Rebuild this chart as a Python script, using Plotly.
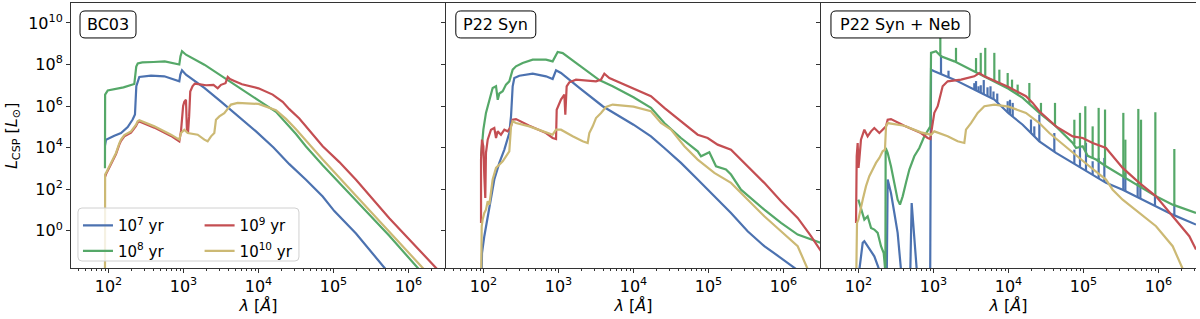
import plotly.graph_objects as go

# ---------------- data (log10 wavelength [A], log10 L [Lsun]) ----------------
AGES = ["10<sup>7</sup> yr", "10<sup>8</sup> yr", "10<sup>9</sup> yr", "10<sup>10</sup> yr"]
COLORS = ["#4C72B0", "#55A868", "#C44E52", "#CCB974"]
PANELS = ["BC03", "P22 Syn", "P22 Syn + Neb"]

# Panel 1: BC03
bc03_7_lam = [1.953, 1.967, 2.078, 2.167, 2.256, 2.322, 2.353, 2.371, 2.411, 2.567, 2.744, 2.944, 2.958, 2.98, 3.033,
              3.278, 3.5, 3.722, 3.967, 4.2, 4.411, 4.633, 4.856, 5.011, 5.3, 5.7]
bc03_7_L = [4.1, 4.38, 4.57, 4.70, 4.99, 5.35, 5.59, 6.95, 7.40, 7.46, 7.43, 7.19, 7.51, 7.72, 7.51,
            6.87, 6.21, 5.55, 4.78, 4.0, 3.2, 2.45, 1.64, 0.94, -0.14, -1.88]
bc03_8_lam = [1.953, 1.955, 1.99, 2.2, 2.344, 2.37, 2.39, 2.45, 2.6, 2.75, 2.944, 2.96, 2.98, 3.033, 3.278, 3.544,
              3.811, 4.0, 4.233, 4.367, 4.5, 4.633, 4.856, 5.3, 5.744, 6.144]
bc03_8_L = [3.0, 6.55, 6.75, 6.9, 7.06, 7.9, 8.05, 8.1, 8.12, 8.15, 8.0, 8.4, 8.64, 8.47, 7.99, 7.37,
            6.74, 6.27, 5.72, 5.2, 4.65, 4.05, 3.15, 1.45, -0.25, -1.88]
bc03_9_lam = [1.955, 1.967, 2.011, 2.056, 2.1, 2.144, 2.167, 2.211, 2.3, 2.367, 2.389, 2.411, 2.611, 2.833, 2.944,
              2.967, 2.98, 2.995, 3.011, 3.033, 3.045, 3.06, 3.075, 3.09, 3.12, 3.15, 3.2, 3.3, 3.4, 3.456,
              3.5, 3.56, 3.59, 3.62, 3.67, 3.78, 4.0, 4.189, 4.322, 4.411, 4.544, 4.722, 4.856, 5.078, 5.3,
              5.744, 6.189, 6.389]
bc03_9_L = [2.6, 2.72, 3.04, 3.36, 3.68, 4.14, 4.32, 4.54, 4.72, 5.04, 5.2, 5.25, 4.96, 4.56, 4.3,
            4.8, 5.6, 6.0, 6.2, 6.3, 4.9, 4.7, 5.5, 6.7, 6.95, 7.08, 7.05, 7.0, 7.02, 6.85,
            7.02, 7.1, 7.4, 7.3, 7.22, 7.05, 6.85, 6.55, 6.2, 5.85, 5.4, 4.65, 4.06, 3.3, 2.45,
            0.6, -1.1, -1.88]
bc03_10_lam = [1.953, 1.955, 1.967, 2.011, 2.056, 2.1, 2.144, 2.167, 2.211, 2.3, 2.367, 2.389, 2.411, 2.611, 2.833,
               2.944, 2.967, 3.011, 3.056, 3.189, 3.278, 3.322, 3.367, 3.411, 3.433, 3.478, 3.544, 3.633, 3.722,
               4.0, 4.233, 4.367, 4.5, 4.633, 4.856, 5.3, 5.744, 6.211]
bc03_10_L = [-3, 2.7, 2.78, 3.1, 3.42, 3.74, 4.2, 4.38, 4.6, 4.78, 5.1, 5.26, 5.31, 5.02, 4.62,
             4.38, 4.7, 4.86, 4.7, 4.62, 4.38, 4.3, 4.54, 4.7, 5.34, 5.5, 5.66, 6.07, 6.15,
             6.1, 5.8, 5.38, 4.88, 4.32, 3.42, 1.68, -0.05, -1.88]

# Panel 2: P22 Syn
syn_7_lam = [1.971, 1.98, 2.011, 2.078, 2.144, 2.211, 2.278, 2.344, 2.367, 2.389, 2.411, 2.478, 2.656, 2.833, 2.922,
             2.967, 3.033, 3.278, 3.589, 4.0, 4.233, 4.411, 4.633, 4.856, 5.078, 5.3, 5.522, 5.744, 5.967, 6.167]
syn_7_L = [-3, -1.08, -0.27, 1.17, 2.46, 3.26, 3.90, 4.70, 5.51, 6.95, 7.35, 7.46, 7.56, 7.43, 7.30,
           7.72, 7.59, 6.87, 5.99, 5.1, 4.54, 3.98, 3.26, 2.46, 1.65, 0.85, -0.03, -0.75, -1.32, -1.85]
syn_8_lam = [1.967, 1.98, 1.998, 2.033, 2.078, 2.122, 2.167, 2.19, 2.211, 2.256, 2.3, 2.344, 2.389, 2.433, 2.522,
             2.656, 2.833, 2.922, 2.989, 3.056, 3.278, 3.544, 3.722, 4.0, 4.233, 4.411, 4.633, 4.856, 4.9, 5.011,
             5.1, 5.233, 5.3, 5.433, 5.744, 5.967, 6.189, 6.5]
syn_8_L = [3.58, 4.22, 4.86, 5.67, 6.31, 6.87, 6.95, 6.3, 6.6, 6.71, 7.03, 7.19, 7.75, 7.91, 8.07,
           8.23, 8.23, 8.15, 8.6, 8.55, 7.96, 7.25, 6.95, 6.42, 5.91, 5.18, 4.46, 3.82, 3.58, 3.77,
           3.1, 2.94, 2.7, 1.97, 1.01, 0.37, -0.19, -0.59]
syn_9_lam = [1.967, 1.967, 1.98, 1.998, 2.011, 2.024, 2.033, 2.056, 2.1, 2.144, 2.167, 2.189, 2.233, 2.278, 2.322,
             2.367, 2.389, 2.433, 2.611, 2.833, 2.922, 2.967, 2.976, 3.033, 3.078, 3.091, 3.109, 3.144, 3.233,
             3.367, 3.5, 3.567, 3.611, 3.678, 4.0, 4.233, 4.411, 4.633, 4.856, 4.989, 5.122, 5.3, 5.433, 5.744,
             5.967, 6.189, 6.367, 6.5]
syn_9_L = [0.37, 3.42, 4.38, 4.06, 2.62, 1.57, 3.74, 4.38, 4.86, 4.94, 4.46, 4.78, 4.62, 4.86, 4.78,
           5.02, 5.34, 5.37, 5.05, 4.70, 4.46, 4.41, 5.82, 6.31, 6.55, 5.58, 6.95, 7.14, 7.27,
           7.22, 7.19, 7.27, 7.56, 7.35, 6.85, 6.47, 5.91, 5.26, 4.62, 4.46, 4.14, 3.90, 3.42, 2.30,
           1.41, 0.61, -0.27, -0.99]
syn_10_lam = [1.967, 1.976, 1.989, 2.011, 2.033, 2.056, 2.078, 2.122, 2.167, 2.211, 2.256, 2.3, 2.344, 2.367, 2.389,
              2.433, 2.611, 2.833, 2.922, 2.967, 3.033, 3.189, 3.322, 3.389, 3.411, 3.456, 3.5, 3.567, 3.633,
              3.722, 4.0, 4.233, 4.367, 4.5, 4.678, 4.856, 5.078, 5.3, 5.522, 5.744, 5.967, 6.189, 6.322]
syn_10_L = [-3, 0.21, 0.53, 0.85, 1.01, 1.41, 1.25, 2.46, 3.02, 3.18, 3.34, 3.58, 3.82, 5.02, 5.26,
            5.18, 5.02, 4.73, 4.62, 4.86, 4.86, 4.54, 4.30, 4.22, 4.7, 5.02, 5.42, 5.66, 5.95,
            6.07, 5.97, 5.75, 5.18, 4.86, 4.06, 3.42, 2.78, 2.30, 1.49, 0.69, -0.03, -0.75, -1.85]

# Panel 3: P22 Syn + Neb (continua)
neb_7_lam = [2.0, 2.011, 2.056, 2.078, 2.211, 2.278, 2.29, 2.375, 2.389, 2.433, 2.478, 2.522, 2.567, 2.58,
             2.68, 2.691, 2.709, 2.789, 2.8, 2.955, 2.967, 3.011, 3.278, 3.589, 3.811, 4.0, 4.189, 4.411,
             4.633, 4.856, 5.078, 5.3, 5.522, 5.744, 5.967, 6.189, 6.5]
neb_7_L = [-3, -1.9, -0.59, -0.51, -1.24, -1.9, -3, -3, 2.46, 1.81, 0.85, -0.11, -1.9, -3,
           -3, -1.9, 1.33, -1.9, -3, -3, 7.75, 7.67, 7.27, 6.71, 6.31, 5.65, 5.1, 4.3,
           3.74, 3.26, 2.78, 2.3, 1.97, 1.57, 1.17, 0.77, 0.29]
neb_8_lam = [1.998, 2.033, 2.078, 2.122, 2.167, 2.211, 2.256, 2.3, 2.336, 2.356, 2.358, 2.362, 2.389, 2.433,
             2.478, 2.522, 2.553, 2.589, 2.633, 2.678, 2.744, 2.811, 2.878, 2.922, 2.958, 2.967, 3.033, 3.1,
             3.278, 3.5, 3.722, 4.0, 4.189, 4.411, 4.633, 4.856, 4.9, 4.989, 5.056, 5.167, 5.3, 5.522,
             5.744, 5.967, 6.189, 6.5]
neb_8_L = [1.49, 1.09, 0.53, 0.69, 0.13, 0.05, -0.11, -0.75, -1.08, -1.9, -3, 3.98, 3.74, 3.10,
           2.30, 1.49, 1.25, 1.65, 2.30, 2.94, 3.58, 3.98, 4.54, 4.78, 5.02, 8.56, 8.64, 8.39,
           8.15, 7.75, 7.35, 6.83, 6.39, 5.67, 5.02, 4.22, 3.98, 4.06, 3.6, 3.42, 3.1, 2.62,
           2.14, 1.65, 1.25, 0.85]
neb_9_lam = [1.967, 1.967, 1.976, 1.989, 2.0, 2.011, 2.033, 2.078, 2.122, 2.167, 2.211, 2.278, 2.322, 2.367,
             2.389, 2.433, 2.611, 2.833, 2.922, 2.958, 2.976, 3.011, 3.056, 3.078, 3.122, 3.189, 3.367, 3.544,
             3.611, 3.678, 4.0, 4.233, 4.322, 4.411, 4.633, 4.856, 4.989, 5.122, 5.3, 5.522, 5.744, 5.967,
             6.189, 6.411, 6.5]
neb_9_L = [0.37, 3.0, 3.58, 4.22, 3.02, 3.42, 4.38, 4.86, 4.54, 4.78, 4.94, 4.70, 4.86, 5.02,
           5.34, 5.37, 5.05, 4.70, 4.46, 4.41, 4.86, 5.67, 5.99, 6.31, 6.95, 7.19, 7.27, 7.43,
           7.59, 7.43, 6.91, 6.47, 6.15, 5.75, 5.02, 4.54, 4.46, 4.22, 3.98, 3.02, 2.30, 1.65,
           0.69, -0.27, -0.91]
neb_10_lam = [1.967, 1.98, 1.998, 2.024, 2.056, 2.1, 2.144, 2.189, 2.233, 2.278, 2.322, 2.353, 2.367, 2.389,
              2.611, 2.833, 2.967, 3.011, 3.189, 3.322, 3.411, 3.433, 3.5, 3.589, 3.678, 3.811, 4.0, 4.233,
              4.411, 4.544, 4.856, 5.078, 5.3, 5.389, 5.522, 5.744, 5.967, 6.189, 6.33]
neb_10_L = [-3, 0.37, 0.53, 1.01, 1.49, 2.14, 2.62, 2.94, 3.26, 3.50, 3.82, 3.90, 5.02, 5.18,
            5.05, 4.73, 4.62, 4.78, 4.54, 4.30, 4.22, 4.86, 5.18, 5.67, 5.99, 6.07, 5.97, 5.67,
            5.18, 4.70, 3.74, 3.10, 2.46, 1.97, 1.49, 0.85, 0.21, -0.75, -1.9]

# Panel 3 nebular emission lines (wavelength, continuum level, line peak)
neb_7_line_lam = [3.1, 3.2, 3.544, 3.567, 3.6, 3.63, 3.67, 3.72, 3.76, 3.8, 3.85, 3.989, 4.02, 4.056, 4.3,
                  4.344, 4.411, 4.611, 4.878, 4.953, 5.033, 5.122, 5.202, 5.278, 5.531, 5.558, 5.722, 5.758,
                  5.953, 6.211]
neb_7_line_base = [7.54, 7.39, 6.79, 6.75, 6.69, 6.64, 6.56, 6.47, 6.4, 6.33, 6.17, 5.69, 5.59, 5.49, 4.7,
                   4.54, 4.3, 3.8, 3.21, 3.05, 2.88, 2.68, 2.51, 2.35, 1.95, 1.9, 1.61, 1.54,
                   1.2, 0.74]
neb_7_line_peak = [8.45, 7.7, 7.1, 7.2, 6.95, 7.0, 7.25, 6.9, 6.95, 6.7, 6.6, 6.23, 6.3, 6.15, 5.35,
                   5.02, 5.59, 4.7, 3.9, 4.06, 4.22, 3.34, 3.5, 3.5, 2.62, 2.78, 2.3, 2.22,
                   1.73, 1.25]
neb_8_line_lam = [3.091, 3.3, 3.567, 3.63, 3.69, 3.811, 3.878, 3.989, 4.047, 4.122, 4.278, 4.433, 4.62,
                  4.878, 4.953, 5.024, 5.122, 5.202, 5.287, 5.531, 5.558, 5.731, 5.767, 5.958, 6.211]
neb_8_line_base = [8.42, 8.12, 7.63, 7.52, 7.41, 7.2, 7.05, 6.83, 6.7, 6.54, 6.1, 5.6, 5.05,
                   4.15, 4.02, 3.85, 3.48, 3.33, 3.12, 2.6, 2.55, 2.17, 2.1, 1.67, 1.22]
neb_8_line_peak = [9.28, 8.8, 8.31, 8.56, 8.8, 8.56, 7.75, 7.59, 7.27, 7.03, 7.11, 6.15, 6.15,
                   5.34, 5.67, 5.99, 5.02, 5.91, 5.83, 5.67, 4.38, 5.86, 5.34, 5.7, 3.93]

SERIES = [
    [(bc03_7_lam, bc03_7_L), (bc03_8_lam, bc03_8_L), (bc03_9_lam, bc03_9_L), (bc03_10_lam, bc03_10_L)],
    [(syn_7_lam, syn_7_L), (syn_8_lam, syn_8_L), (syn_9_lam, syn_9_L), (syn_10_lam, syn_10_L)],
    [(neb_7_lam, neb_7_L), (neb_8_lam, neb_8_L), (neb_9_lam, neb_9_L), (neb_10_lam, neb_10_L)],
]
LINES = {(2, 0): (neb_7_line_lam, neb_7_line_base, neb_7_line_peak),
         (2, 1): (neb_8_line_lam, neb_8_line_base, neb_8_line_peak)}

X_TICKS = [2, 3, 4, 5, 6]
Y_TICKS = [0, 2, 4, 6, 8, 10]

# ---------------- figure ----------------
FONT = "DejaVu Sans"
AX = "#333333"
fig = go.Figure()

for p in range(3):
    xa = "x" if p == 0 else f"x{p+1}"
    ya = "y" if p == 0 else f"y{p+1}"
    for s in range(4):
        lam, L = SERIES[p][s]
        assert len(lam) == len(L)
        fig.add_trace(go.Scatter(
            x=[10 ** v for v in lam], y=[10 ** v for v in L], mode="lines",
            line=dict(color=COLORS[s], width=2.2), name=AGES[s],
            legend="legend" if s in (0, 1) else "legend2",
            legendgroup=f"g{s}", showlegend=(p == 0), xaxis=xa, yaxis=ya, hoverinfo="skip"))
        if (p, s) in LINES:
            llam, lb, lp = LINES[(p, s)]
            assert len(llam) == len(lb) == len(lp)
            xs, ys = [], []
            for a, b, c in zip(llam, lb, lp):
                xs += [10 ** a, 10 ** a, None]
                ys += [10 ** b, 10 ** c, None]
            fig.add_trace(go.Scatter(x=xs, y=ys, mode="lines", line=dict(color=COLORS[s], width=2.2),
                                     showlegend=False, xaxis=xa, yaxis=ya, hoverinfo="skip"))

minor_vals = [m * 10 ** d for d in range(1, 7) for m in range(2, 10)]
layout = dict(
    width=1200, height=319, margin=dict(l=71, r=4, t=3, b=51, autoexpand=False),
    paper_bgcolor="white", plot_bgcolor="white",
    font=dict(family=FONT, size=16, color="black"),
)
for p in range(3):
    sfx = "" if p == 0 else str(p + 1)
    layout[f"xaxis{sfx}"] = dict(
        domain=[p / 3, (p + 1) / 3], type="log", range=[1.5, 6.5], anchor=f"y{sfx}", automargin=False,
        tickvals=[10 ** v for v in X_TICKS], ticktext=[f"10<sup>{v}</sup>" for v in X_TICKS],
        ticks="outside", ticklen=4, tickwidth=1, tickcolor=AX,
        minor=dict(tickvals=minor_vals, ticks="outside", ticklen=2, tickwidth=0.8, tickcolor=AX),
        showline=True, linecolor=AX, linewidth=1, mirror=True, showgrid=False, zeroline=False,
        tickfont=dict(size=16),
        title=dict(text="<i>λ</i> [<i>Å</i>]", font=dict(size=16), standoff=4),
    )
    layout[f"yaxis{sfx}"] = dict(
        domain=[0, 1], type="log", range=[-1.8, 10.96], anchor=f"x{sfx}", automargin=False,
        tickvals=[10 ** v for v in Y_TICKS], ticktext=[f"10<sup>{v}</sup>" for v in Y_TICKS],
        showticklabels=(p == 0), ticks="outside", ticklen=4, tickwidth=1, tickcolor=AX,
        showline=True, linecolor=AX, linewidth=1, showgrid=False, zeroline=False,
        tickfont=dict(size=16),
    )
    layout[f"yaxis{p+4}"] = dict(
        type="log", range=[-1.8, 10.96], anchor=f"x{sfx}", overlaying=f"y{sfx}", side="right",
        automargin=False,
        tickvals=[10 ** v for v in Y_TICKS], showticklabels=False, ticks="inside", ticklen=4,
        tickwidth=1, tickcolor=AX, showline=True, linecolor=AX, linewidth=1, showgrid=False,
        zeroline=False,
    )

layout["legend"] = dict(x=0.0062, y=0.222, xanchor="left", yanchor="top", bgcolor="rgba(0,0,0,0)",
                        borderwidth=0, font=dict(size=15), tracegroupgap=3, itemwidth=30)
layout["legend2"] = dict(x=0.1143, y=0.222, xanchor="left", yanchor="top", bgcolor="rgba(0,0,0,0)",
                         borderwidth=0, font=dict(size=15), tracegroupgap=3, itemwidth=30)
fig.update_layout(**layout)

# y-axis title (placed as rotated text left of the tick labels)
fig.add_annotation(x=-0.0524, y=0.498, xref="paper", yref="paper", textangle=-90, showarrow=False,
                   text="<i>L</i><sub>CSP</sub> [<i>L</i><sub>⊙</sub>]", xanchor="center", yanchor="middle",
                   font=dict(size=16, color="black"))


def rounded(cx, cy, w, h, r, line, fill):
    a, b = w / 2, h / 2
    path = (f"M {-a+r},{-b} L {a-r},{-b} Q {a},{-b} {a},{-b+r} L {a},{b-r} Q {a},{b} {a-r},{b} "
            f"L {-a+r},{b} Q {-a},{b} {-a},{b-r} L {-a},{-b+r} Q {-a},{-b} {-a+r},{-b} Z")
    return dict(type="path", xref="paper", yref="paper", xsizemode="pixel", ysizemode="pixel",
                xanchor=cx, yanchor=cy, path=path, line=line, fillcolor=fill, layer="above")


# legend frame
fig.add_shape(**rounded(0.1044, 0.1264, 221, 53, 4, dict(color="#d0d0d0", width=1), "rgba(255,255,255,0.8)"))

# panel labels
boxes = [(0.0329, 56), (0.3776, 80), (0.7373, 139)]
for (cx, w), txt in zip(boxes, PANELS):
    fig.add_shape(**rounded(cx, 0.919, w, 27, 5, dict(color="black", width=1), "white"))
    fig.add_annotation(x=cx, y=0.919, xref="paper", yref="paper", text=txt, showarrow=False,
                       xanchor="center", yanchor="middle", font=dict(size=16, color="black"))

fig.write_html("out.html", post_script="document.body.style.margin='0px';",
               config={"displayModeBar": False})
